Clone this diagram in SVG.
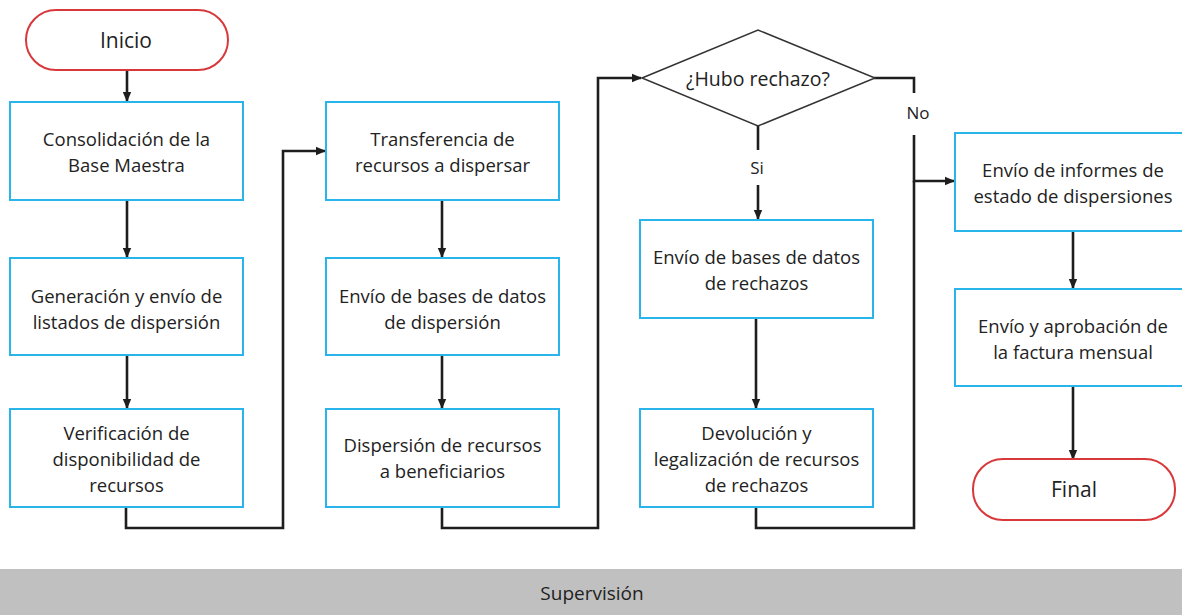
<svg xmlns="http://www.w3.org/2000/svg" width="1182" height="615" viewBox="0 0 1182 615">
<style>
.box{fill:#fff;stroke:#2ab4ec;stroke-width:2}
.term{fill:#fff;stroke:#d9383a;stroke-width:2}
.dia{fill:#fff;stroke:#333;stroke-width:1.5}
.t{font-family:"Open Sans","Noto Sans",sans-serif;font-size:18.5px;fill:#222;text-anchor:middle;dominant-baseline:central}
.tt{font-size:21px}
.td{font-size:19.5px}
.tl{font-size:17px}
.ts{font-size:19px}
.c{fill:none;stroke:#1e1e1e;stroke-width:2.6}
</style>
<defs>
<marker id="ah" markerUnits="userSpaceOnUse" markerWidth="10" markerHeight="10" viewBox="0 0 10 10" refX="9" refY="5" orient="auto">
<path d="M0,0.8 L10,5 L0,9.2 Z" fill="#1e1e1e"/>
</marker>
</defs>
<rect x="0" y="569" width="1182" height="46" fill="#c0c0c0"/>
<text class="t ts" x="592" y="593">Supervisión</text>
<g id="connectors">
<path class="c" d="M127,70 V101" marker-end="url(#ah)"/>
<path class="c" d="M127,200 V257" marker-end="url(#ah)"/>
<path class="c" d="M127,355 V408" marker-end="url(#ah)"/>
<path class="c" d="M126,507 V528 H283 V151 H325" marker-end="url(#ah)"/>
<path class="c" d="M442,200 V257" marker-end="url(#ah)"/>
<path class="c" d="M442,355 V408" marker-end="url(#ah)"/>
<path class="c" d="M442,507 V528 H598 V78 H641" marker-end="url(#ah)"/>
<path class="c" d="M758,125 V150"/>
<path class="c" d="M758,185 V219" marker-end="url(#ah)"/>
<path class="c" d="M756,318 V408" marker-end="url(#ah)"/>
<path class="c" d="M874,78 H914 V93"/>
<path class="c" d="M914,135 V181 H954" marker-end="url(#ah)"/>
<path class="c" d="M756,507 V528 H914 V181"/>
<path class="c" d="M1073,231 V288" marker-end="url(#ah)"/>
<path class="c" d="M1073,386 V459" marker-end="url(#ah)"/>
<text class="t tl" x="757" y="167">Si</text>
<text class="t tl" x="918" y="112">No</text>
</g>
<g id="inicio"><rect class="term" x="26" y="10" width="202" height="60" rx="30"/><text class="t tt" x="126" y="40">Inicio</text></g>
<g id="n1"><rect class="box" x="10" y="102" width="233" height="98"/><text class="t" x="126.5" y="138">Consolidación de la</text><text class="t" x="126.5" y="164">Base Maestra</text></g>
<g id="n2"><rect class="box" x="10" y="258" width="233" height="97"/><text class="t" x="126.5" y="295">Generación y envío de</text><text class="t" x="126.5" y="321">listados de dispersión</text></g>
<g id="n3"><rect class="box" x="10" y="409" width="233" height="98"/><text class="t" x="126.5" y="432">Verificación de</text><text class="t" x="126.5" y="458">disponibilidad de</text><text class="t" x="126.5" y="484">recursos</text></g>
<g id="n4"><rect class="box" x="326" y="102" width="233" height="98"/><text class="t" x="442.5" y="138">Transferencia de</text><text class="t" x="442.5" y="164">recursos a dispersar</text></g>
<g id="n5"><rect class="box" x="326" y="258" width="233" height="97"/><text class="t" x="442.5" y="295">Envío de bases de datos</text><text class="t" x="442.5" y="321">de dispersión</text></g>
<g id="n6"><rect class="box" x="326" y="409" width="233" height="98"/><text class="t" x="442.5" y="444">Dispersión de recursos</text><text class="t" x="442.5" y="470">a beneficiarios</text></g>
<g id="d1"><polygon class="dia" points="642,78 758,30 875,78 758,126"/><text class="t td" x="758" y="78">¿Hubo rechazo?</text></g>
<g id="n7"><rect class="box" x="640" y="220" width="233" height="98"/><text class="t" x="756.5" y="256">Envío de bases de datos</text><text class="t" x="756.5" y="282">de rechazos</text></g>
<g id="n8"><rect class="box" x="640" y="409" width="233" height="98"/><text class="t" x="756.5" y="432">Devolución y</text><text class="t" x="756.5" y="458">legalización de recursos</text><text class="t" x="756.5" y="484">de rechazos</text></g>
<g id="n9"><rect class="box" x="955" y="133" width="236" height="98"/><text class="t" x="1073" y="169">Envío de informes de</text><text class="t" x="1073" y="195">estado de dispersiones</text></g>
<g id="n10"><rect class="box" x="955" y="289" width="236" height="97"/><text class="t" x="1073" y="325">Envío y aprobación de</text><text class="t" x="1073" y="351">la factura mensual</text></g>
<g id="final"><rect class="term" x="973" y="459" width="202" height="61" rx="30"/><text class="t tt" x="1074" y="489">Final</text></g>
</svg>
